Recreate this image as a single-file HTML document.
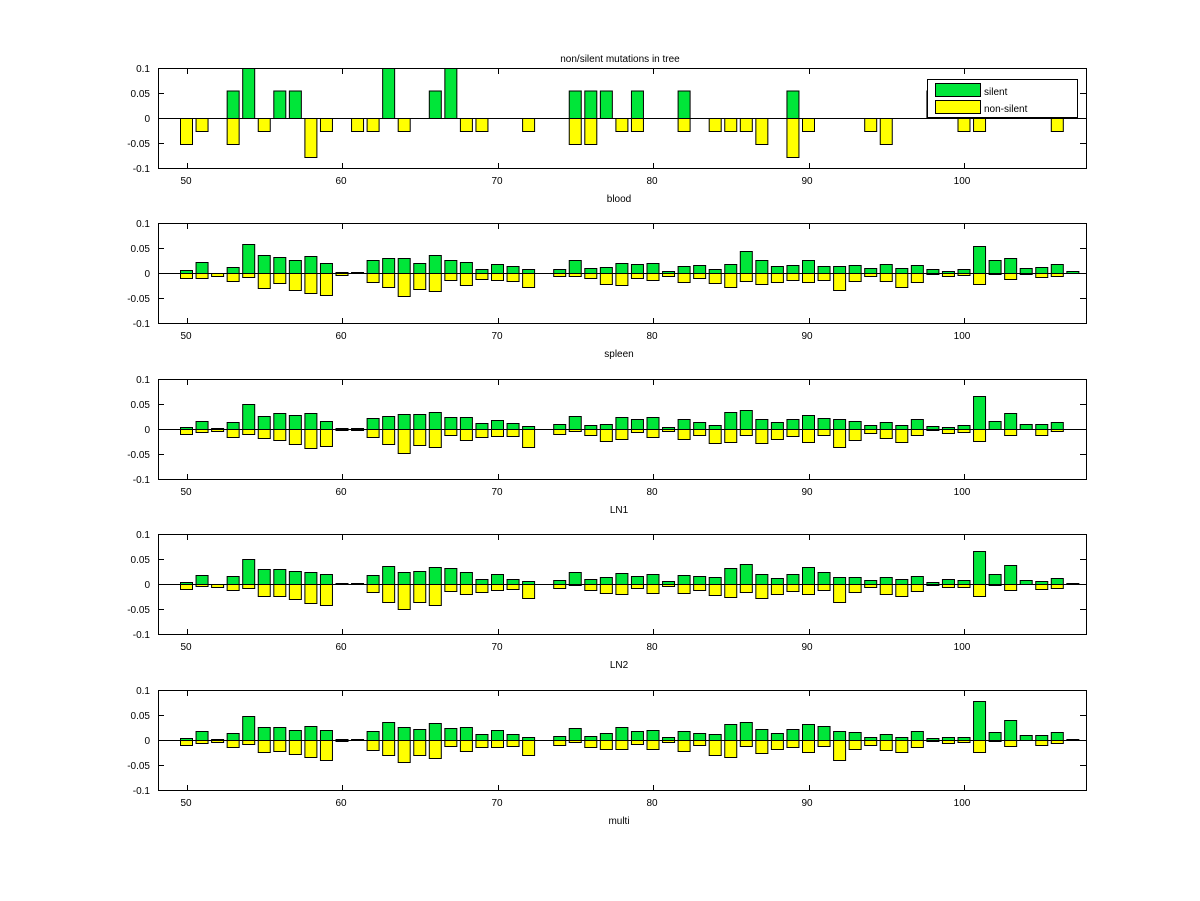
<!DOCTYPE html>
<html><head><meta charset="utf-8"><style>
html,body{margin:0;padding:0;background:#fff}
svg{display:block}
text{font-family:"Liberation Sans",sans-serif;font-size:10px;fill:#000}
</style></head><body>
<svg id="s" width="1200" height="901" viewBox="0 0 1200 901">
<rect width="1200" height="901" fill="#fff"/>
<text x="620" y="62" text-anchor="middle">non/silent mutations in tree</text>
<g id="bars"></g>
<g text-anchor="end">
<text x="150" y="72">0.1</text><text x="150" y="97">0.05</text><text x="150" y="122">0</text><text x="150" y="147">-0.05</text><text x="150" y="172">-0.1</text>
<text x="150" y="227">0.1</text><text x="150" y="252">0.05</text><text x="150" y="277">0</text><text x="150" y="302">-0.05</text><text x="150" y="327">-0.1</text>
<text x="150" y="383">0.1</text><text x="150" y="408">0.05</text><text x="150" y="433">0</text><text x="150" y="458">-0.05</text><text x="150" y="483">-0.1</text>
<text x="150" y="538">0.1</text><text x="150" y="563">0.05</text><text x="150" y="588">0</text><text x="150" y="613">-0.05</text><text x="150" y="638">-0.1</text>
<text x="150" y="694">0.1</text><text x="150" y="719">0.05</text><text x="150" y="744">0</text><text x="150" y="769">-0.05</text><text x="150" y="794">-0.1</text>
</g>
<g text-anchor="middle">
<text x="186" y="184">50</text><text x="341" y="184">60</text><text x="497" y="184">70</text><text x="652" y="184">80</text><text x="807" y="184">90</text><text x="962" y="184">100</text>
<text x="186" y="339">50</text><text x="341" y="339">60</text><text x="497" y="339">70</text><text x="652" y="339">80</text><text x="807" y="339">90</text><text x="962" y="339">100</text>
<text x="186" y="495">50</text><text x="341" y="495">60</text><text x="497" y="495">70</text><text x="652" y="495">80</text><text x="807" y="495">90</text><text x="962" y="495">100</text>
<text x="186" y="650">50</text><text x="341" y="650">60</text><text x="497" y="650">70</text><text x="652" y="650">80</text><text x="807" y="650">90</text><text x="962" y="650">100</text>
<text x="186" y="806">50</text><text x="341" y="806">60</text><text x="497" y="806">70</text><text x="652" y="806">80</text><text x="807" y="806">90</text><text x="962" y="806">100</text>
<text x="619" y="205">blood</text>
<text x="619" y="360">spleen</text>
<text x="619" y="516">LN1</text>
<text x="619" y="671">LN2</text>
<text x="619" y="827">multi</text>
</g>
<g id="legend">
<rect x="927.5" y="79.5" width="150" height="38" fill="#fff" stroke="#000"/>
<rect x="935.5" y="83.5" width="45" height="13" fill="#00e639" stroke="#000"/>
<rect x="935.5" y="100.5" width="45" height="13" fill="#ffff00" stroke="#000"/>
<text x="984" y="95">silent</text>
<text x="984" y="112">non-silent</text>
</g>
</svg>
<script>
document.querySelectorAll('text').forEach(function(t){var y=+t.getAttribute('y');if([205,360,516,671,827].indexOf(y)>=0)t.setAttribute('y',y-3);});
var tops=[68,223,379,534,690];
var X=function(v){return 186.5+(v-50)*15.55;};
var xs=[];for(var v=50;v<=107;v++){if(v!=73)xs.push(v);}
function z(a){return a.map(function(p){return [(160-p[0])/3,(p[1]-160)/3];});}
var bs={53:.055,54:.1,56:.055,57:.055,63:.1,66:.055,67:.1,75:.055,76:.055,77:.055,79:.055,82:.055,89:.055,98:.055};
var bn={50:.052,51:.026,53:.052,55:.026,58:.078,59:.026,61:.026,62:.026,64:.026,68:.026,69:.026,72:.026,75:.052,76:.052,78:.026,79:.026,82:.026,84:.026,85:.026,86:.026,87:.052,89:.078,90:.026,94:.026,95:.052,100:.026,101:.026,106:.026};
var P1=xs.map(function(v){return [(bs[v]||0)*500,(bn[v]||0)*500];});
var P2=z([[151,175],[127,175],[160,169],[142,184],[73,172],[106,205],[112,190],[121,211],[109,220],[130,226],[157,166],[157,160],[121,187],[115,202],[115,229],[130,208],[106,214],[121,181],[127,196],[148,178],[133,181],[139,184],[148,202],[148,169],[121,169],[145,175],[142,193],[130,196],[133,175],[130,181],[154,169],[139,187],[136,175],[148,190],[133,202],[94,184],[121,193],[139,187],[136,181],[121,187],[139,181],[139,211],[136,184],[145,169],[133,184],[145,202],[136,187],[148,163],[154,169],[148,166],[79,193],[121,163],[115,178],[145,163],[142,172],[133,169],[154,160]]);
var P3=z([[154,175],[136,169],[157,166],[139,184],[85,175],[121,187],[112,193],[118,205],[112,217],[136,211],[157,163],[157,163],[127,184],[121,205],[115,232],[115,208],[109,214],[124,178],[124,193],[142,184],[133,181],[142,181],[151,214],[145,175],[121,166],[148,178],[145,196],[124,190],[130,169],[124,184],[154,166],[130,190],[139,178],[148,202],[109,199],[103,178],[130,202],[139,190],[130,181],[118,199],[127,178],[130,214],[136,193],[148,172],[139,187],[148,199],[130,178],[151,163],[154,172],[148,169],[61,196],[136,160],[112,178],[145,160],[145,178],[139,166],[160,160]]);
var P4=z([[154,175],[133,166],[160,169],[136,178],[85,172],[115,196],[115,196],[121,205],[124,217],[130,223],[157,160],[157,160],[133,184],[106,214],[124,235],[121,214],[109,223],[112,181],[124,190],[145,184],[130,178],[145,175],[151,202],[148,172],[124,163],[145,178],[139,187],[127,190],[136,172],[130,187],[151,166],[133,187],[136,178],[139,193],[112,199],[100,184],[130,202],[142,190],[130,181],[109,190],[124,178],[139,214],[139,184],[148,169],[139,190],[145,196],[136,181],[154,163],[145,169],[148,169],[61,196],[130,163],[103,178],[148,160],[151,175],[142,172],[157,160]]);
var P5=z([[154,175],[133,169],[157,166],[139,181],[88,172],[121,196],[121,193],[130,202],[118,211],[130,220],[157,163],[157,160],[133,190],[106,205],[121,226],[127,205],[109,214],[124,178],[121,193],[142,181],[130,181],[142,178],[151,205],[148,175],[124,166],[148,181],[139,187],[121,187],[133,172],[130,187],[151,166],[133,193],[139,175],[142,205],[112,211],[106,178],[127,199],[139,187],[127,181],[112,196],[118,178],[133,220],[136,187],[151,175],[142,190],[151,196],[133,181],[154,163],[151,169],[151,166],[43,196],[136,163],[100,178],[145,160],[145,175],[136,169],[157,160]]);
var data=[P1,P2,P3,P4,P5];
var h='';
for(var p=0;p<5;p++){
 var t=tops[p],z0=t+50.5;
 h+='<rect x="158.5" y="'+(t+.5)+'" width="928" height="100" fill="#fff" stroke="none"/>';
 data[p].forEach(function(d,i){
  var x=X(xs[i])-6;
  if(d[0]>0.3)h+='<rect x="'+x+'" y="'+(z0-d[0])+'" width="12" height="'+d[0]+'" fill="#00e639" stroke="#000" stroke-width="1"/>';
  if(d[1]>0.3)h+='<rect x="'+x+'" y="'+z0+'" width="12" height="'+d[1]+'" fill="#ffff00" stroke="#000" stroke-width="1"/>';
 });
 h+='<line x1="158" x2="1086" y1="'+z0+'" y2="'+z0+'" stroke="#000"/>';
 h+='<rect x="158.5" y="'+(t+.5)+'" width="928" height="100" fill="none" stroke="#000"/>';
 [50,60,70,80,90,100].forEach(function(v){var x=Math.round(X(v))+.5;
  h+='<line x1="'+x+'" x2="'+x+'" y1="'+t+'" y2="'+(t+6)+'" stroke="#000"/><line x1="'+x+'" x2="'+x+'" y1="'+(t+95)+'" y2="'+(t+100)+'" stroke="#000"/>';});
 [0,25,50,75,100].forEach(function(o){var y=t+o+.5;
  h+='<line x1="158" x2="164" y1="'+y+'" y2="'+y+'" stroke="#000"/><line x1="1080" x2="1086" y1="'+y+'" y2="'+y+'" stroke="#000"/>';});
}
document.getElementById('bars').innerHTML=h;
</script>
</body></html>
